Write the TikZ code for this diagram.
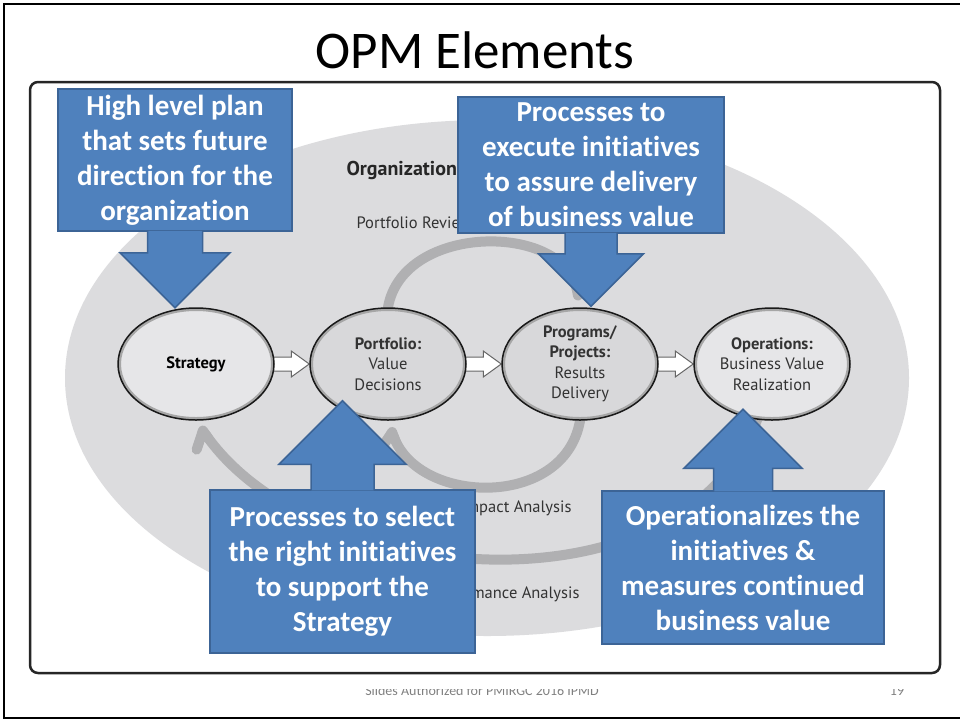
\documentclass[tikz,border=0pt]{standalone}
\usepackage{fontspec}
\setmainfont{Carlito}[Ligatures={NoCommon,NoDiscretionary}]
\newfontfamily\stagefont{PT Sans}
\usetikzlibrary{shapes.geometric}
\usetikzlibrary{arrows.meta}
\usetikzlibrary{positioning}
\usetikzlibrary{backgrounds}

\definecolor{calloutblue}{HTML}{4F81BD}
\definecolor{calloutline}{HTML}{3C6496}
\definecolor{orggray}{HTML}{DCDCDE}
\definecolor{loopgray}{HTML}{B0B0B2}
\definecolor{stagelight}{HTML}{E6E6E8}
\definecolor{stagedark}{HTML}{D8D8DA}
\definecolor{labeltext}{HTML}{333333}

\begin{document}
\begin{tikzpicture}[x=1pt,y=-1pt,
    stage node/.style={ellipse,draw=black!90,line width=1.5pt,minimum width=156pt,minimum height=112pt,
      inner sep=0pt,align=center,text=labeltext,font=\stagefont\fontsize{16.5}{20.5}\selectfont,
      path picture={\draw[gray!70,line width=6pt] (path picture bounding box.center) ellipse[x radius=78pt,y radius=56pt];}},
    callout box/.style={rectangle,draw=calloutline,line width=1.5pt,fill=calloutblue,text=white,
      font=\bfseries\fontsize{29}{35}\selectfont,align=center,inner sep=0pt},
    callout arrow/.style={draw=calloutline,line width=1.5pt,fill=calloutblue,line join=miter},
    loop arc/.style={draw=loopgray,line width=10pt,line cap=round,shorten >=7pt,
      -{Straight Barb[harpoon,round,length=12pt,width=32pt]}},
    hollow arrow/.style={draw=gray!80!black,line width=1pt,fill=white},
    area label/.style={text=labeltext,font=\stagefont\fontsize{16.5}{20}\selectfont}]
  \useasboundingbox (0,0) rectangle (960,721);
  % slide frame and title
  \draw[line width=2pt] (4,4) rectangle (963,718);
  \node[anchor=base,font=\fontsize{53}{60}\selectfont] (title) at (475,68) {OPM Elements};

  % the four stages
  \node[stage node,fill=stagelight,text=black] (strategy) at (196,364) {\textbf{Strategy}};
  \node[stage node,fill=stagedark] (portfolio) at (388,364) {\textbf{Portfolio:}\\Value\\Decisions};
  \node[stage node,fill=stagedark] (programs) at (580,364) {\textbf{Programs/}\\\textbf{Projects:}\\Results\\Delivery};
  \node[stage node,fill=stagelight] (operations) at (772,364) {\textbf{Operations:}\\Business Value\\Realization};

  \begin{scope}[on background layer]
    % footer, mostly hidden below the panel
    \begin{scope}
      \clip (0,689) rectangle (960,721);
      \node[anchor=base,text=gray,font=\fontsize{14}{16}\selectfont] (footer) at (482,695) {Slides Authorized for PMIRGC 2016 IPMD};
      \node[anchor=base,text=gray,font=\fontsize{14}{16}\selectfont] (pageno) at (897,695) {19};
    \end{scope}
    \draw[line width=2.5pt,draw=black!85,fill=white,rounded corners=8pt] (30,82) rectangle (940,673);
    \fill[orggray] (487,378) ellipse[x radius=422pt,y radius=258pt];
    % feedback loops
    \draw[loop arc] (portfolio.north) to[out=80,in=100,looseness=1.15] (programs.north);
    \draw[loop arc] (programs.south) to[out=-100,in=-70,looseness=1.2] (portfolio.south);
    \draw[loop arc] (operations.255) to[out=-110,in=-55,looseness=0.95] (strategy.south);
    % flow between stages
    \filldraw[hollow arrow] (portfolio.west) -- ++(-18,-13) -- ++(0,6) -- ++(-26,0) -- ++(0,14) -- ++(26,0) -- ++(0,6) -- cycle;
    \filldraw[hollow arrow] (programs.west) -- ++(-18,-13) -- ++(0,6) -- ++(-26,0) -- ++(0,14) -- ++(26,0) -- ++(0,6) -- cycle;
    \filldraw[hollow arrow] (operations.west) -- ++(-18,-13) -- ++(0,6) -- ++(-26,0) -- ++(0,14) -- ++(26,0) -- ++(0,6) -- cycle;
  \end{scope}

  % labels of the loops
  \node[area label,font=\stagefont\bfseries\fontsize{20}{24}\selectfont,text=black!85,anchor=base west] (orglabel) at (343,175) {Organization};
  \node[area label,anchor=base west] (reviewlabel) at (353,228) {Portfolio Review};
  \node[area label,anchor=base east] (impactlabel) at (575,512) {Impact Analysis};
  \node[area label,anchor=base east] (perflabel) at (583,598) {Performance Analysis};

  % callouts
  \node[callout box,minimum width=234pt,minimum height=142pt] (plan) at (175,160) {High level plan\\that sets future\\direction for the\\organization};
  \filldraw[callout arrow] ([xshift=-27.5pt,yshift=1pt]plan.south) -- ++(0,22) -- ++(-27.5,0) -- ++(55,55) -- ++(55,-55) -- ++(-27.5,0) -- ++(0,-22);

  \node[callout box,minimum width=266pt,minimum height=136pt] (execute) at (591,165) {Processes to\\execute initiatives\\to assure delivery\\of business value};
  \filldraw[callout arrow] ([xshift=-26pt,yshift=1pt]execute.south) -- ++(0,21) -- ++(-26.5,0) -- ++(52.5,52.5) -- ++(52.5,-52.5) -- ++(-26.5,0) -- ++(0,-21);

  \node[callout box,minimum width=265pt,minimum height=163pt] (select) at (342.5,571.5) {Processes to select\\the right initiatives\\to support the\\Strategy};
  \filldraw[callout arrow] ([xshift=-31.5pt,yshift=-1pt]select.north) -- ++(0,-26) -- ++(-32,0) -- ++(63.5,-63.5) -- ++(63.5,63.5) -- ++(-32,0) -- ++(0,26);

  \node[callout box,minimum width=282pt,minimum height=153pt] (operate) at (743,567.5) {Operationalizes the\\initiatives \&\\measures continued\\business value};
  \filldraw[callout arrow] ([xshift=-29.5pt,yshift=-1pt]operate.north) -- ++(0,-23) -- ++(-29.5,0) -- ++(59,-59) -- ++(59,59) -- ++(-29.5,0) -- ++(0,23);
\end{tikzpicture}
\end{document}
